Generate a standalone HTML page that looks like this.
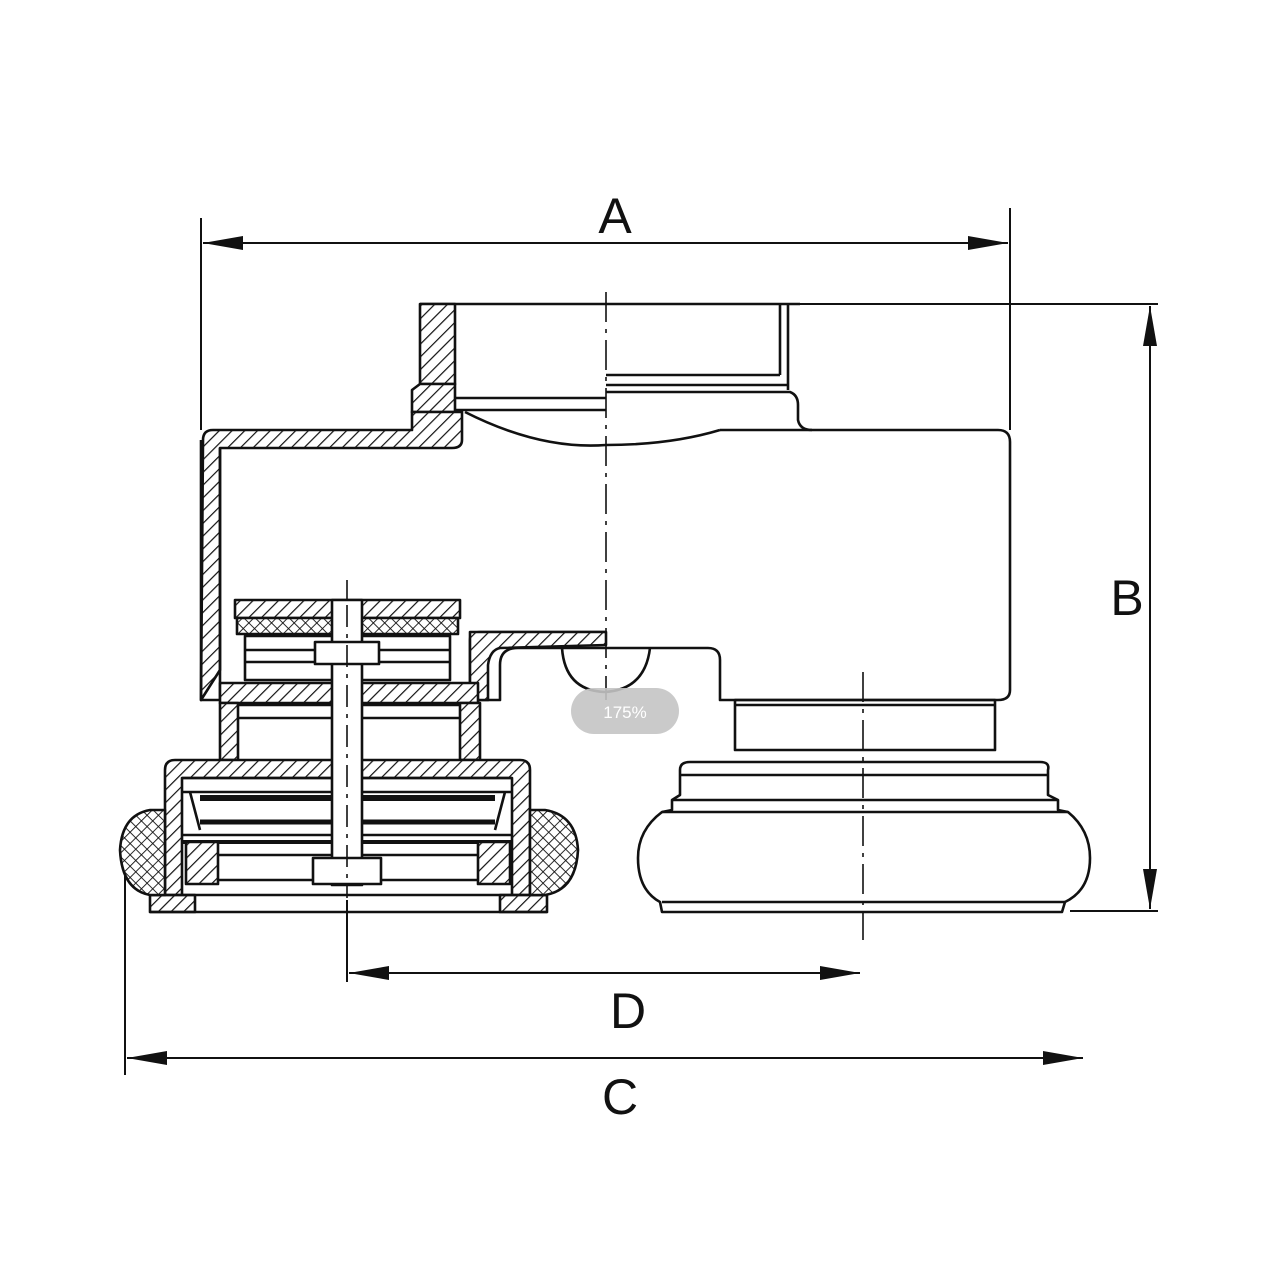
<!DOCTYPE html>
<html><head><meta charset="utf-8"><style>
html,body{margin:0;padding:0;background:#fff;width:1280px;height:1280px;overflow:hidden}
svg{display:block}
text{font-family:"Liberation Sans",sans-serif;fill:#111}
</style></head><body>
<svg width="1280" height="1280" viewBox="0 0 1280 1280" xmlns="http://www.w3.org/2000/svg">
<defs>
<pattern id="h" width="9" height="9" patternUnits="userSpaceOnUse" patternTransform="rotate(45)">
<rect width="9" height="9" fill="#fff"/><line x1="0" y1="0" x2="0" y2="9" stroke="#111" stroke-width="2.4"/></pattern>
<pattern id="x" width="8" height="8" patternUnits="userSpaceOnUse" patternTransform="rotate(45)">
<rect width="8" height="8" fill="#fff"/><line x1="0" y1="0" x2="0" y2="8" stroke="#111" stroke-width="1.8"/><line x1="0" y1="0" x2="8" y2="0" stroke="#111" stroke-width="1.8"/></pattern>
<marker id="ar" viewBox="0 0 40 14" refX="40" refY="7" markerWidth="40" markerHeight="14" markerUnits="userSpaceOnUse" orient="auto-start-reverse"><path d="M0,0 L40,7 L0,14 Z" fill="#111"/></marker>
</defs>
<g stroke="#111" stroke-width="2" fill="none">
<!-- dimension lines -->
<line x1="201" y1="218" x2="201" y2="430"/>
<line x1="1010" y1="208" x2="1010" y2="430"/>
<line x1="203" y1="243" x2="1008" y2="243" marker-start="url(#ar)" marker-end="url(#ar)"/>
<line x1="790" y1="304" x2="1158" y2="304"/>
<line x1="1070" y1="911" x2="1158" y2="911"/>
<line x1="1150" y1="306" x2="1150" y2="909" marker-start="url(#ar)" marker-end="url(#ar)"/>
<line x1="347" y1="900" x2="347" y2="982"/>
<line x1="349" y1="973" x2="860" y2="973" marker-start="url(#ar)" marker-end="url(#ar)"/>
<line x1="125" y1="860" x2="125" y2="1075"/>
<line x1="127" y1="1058" x2="1083" y2="1058" marker-start="url(#ar)" marker-end="url(#ar)"/>
<!-- center lines -->
<line x1="606" y1="292" x2="606" y2="700" stroke-dasharray="30,7,4,7" stroke-width="1.6"/>
<line x1="863" y1="672" x2="863" y2="940" stroke-dasharray="30,7,4,7" stroke-width="1.6"/>
<line x1="347" y1="580" x2="347" y2="900" stroke-dasharray="30,7,4,7" stroke-width="1.6"/>
</g>
<g stroke="#111" stroke-width="2.6" fill="none" stroke-linejoin="round">
<!-- top cylinder -->
<line x1="420" y1="304" x2="800" y2="304"/>
<rect x="420" y="304" width="35" height="80" fill="url(#h)"/>
<path d="M420,384 L412,390 L412,412 L455,412 L455,384 Z" fill="url(#h)"/>
<line x1="780" y1="304" x2="780" y2="375"/><line x1="788" y1="304" x2="788" y2="390"/>
<line x1="606" y1="375" x2="780" y2="375"/><line x1="606" y1="385" x2="788" y2="385"/>
<line x1="455" y1="398" x2="606" y2="398"/><line x1="455" y1="410" x2="606" y2="410"/>
<path d="M606,392 L790,392 Q798,395 798,405 L798,420 Q800,430 812,430"/>
<path d="M465,412 Q540,450 606,445 Q670,445 720,430"/>
<!-- main housing left wall hatched -->
<path d="M203,440 Q203,430 213,430 L412,430 L412,412 L462,412 L462,440 Q462,448 452,448 L220,448 L220,670 L201,700 Z" fill="url(#h)"/>
<path d="M201,440 L201,700 L220,700 L220,448" />
<!-- right body -->
<path d="M720,430 L998,430 Q1010,430 1010,442 L1010,690 Q1010,700 998,700 L720,700 L720,660 Q720,648 708,648 L518,648 Q500,648 500,665 L500,700 L470,700 L470,640 Q470,632 480,632 L606,632"/>
<path d="M470,640 L606,640" />
<path d="M470,632 L606,632 L606,645 L500,648 Q490,650 488,665 L488,700 L470,700 Z" fill="url(#h)"/>
<path d="M562,648 Q565,690 604,692 Q645,690 650,648"/>
<!-- lower right pipe and wheel -->
<rect x="735" y="700" width="260" height="50"/>
<line x1="735" y1="705" x2="995" y2="705"/>
<path d="M690,762 L1040,762 Q1050,762 1048,770 L1048,795 L1058,800 L1058,810 L1068,812 Q1090,830 1090,858 Q1090,890 1065,902 L1062,912 L662,912 L660,902 Q638,890 638,858 Q638,830 662,812 L672,810 L672,800 L680,795 L680,770 Q680,762 690,762 Z"/>
<line x1="680" y1="775" x2="1048" y2="775"/>
<line x1="672" y1="800" x2="1058" y2="800"/>
<line x1="662" y1="812" x2="1068" y2="812"/>
<line x1="662" y1="902" x2="1065" y2="902"/>
<!-- left assembly -->
<rect x="235" y="600" width="225" height="18" fill="url(#h)"/>
<rect x="237" y="618" width="221" height="16" fill="url(#x)"/>
<rect x="245" y="636" width="205" height="44"/>
<line x1="245" y1="650" x2="450" y2="650"/><line x1="245" y1="662" x2="450" y2="662"/>
<rect x="220" y="683" width="258" height="20" fill="url(#h)"/>
<path d="M220,703 L220,760 L238,760 L238,703 Z" fill="url(#h)"/>
<path d="M460,703 L460,760 L480,760 L480,703 Z" fill="url(#h)"/>
<line x1="238" y1="705" x2="460" y2="705"/><line x1="238" y1="718" x2="460" y2="718"/>
<path d="M165,770 Q165,760 175,760 L520,760 Q530,760 530,770 L530,910 L512,910 L512,778 L182,778 L182,910 L165,910 Z" fill="url(#h)"/>
<line x1="182" y1="778" x2="512" y2="778"/><line x1="182" y1="792" x2="512" y2="792"/>
<path d="M190,792 L200,830 M505,792 L495,830" />
<line x1="200" y1="798" x2="495" y2="798" stroke-width="6"/>
<line x1="200" y1="822" x2="495" y2="822" stroke-width="5"/>
<line x1="182" y1="835" x2="512" y2="835"/><line x1="182" y1="842" x2="512" y2="842" stroke-width="4"/>
<rect x="186" y="842" width="32" height="42" fill="url(#h)"/>
<rect x="478" y="842" width="32" height="42" fill="url(#h)"/>
<line x1="218" y1="855" x2="478" y2="855"/><line x1="218" y1="880" x2="478" y2="880"/>
<rect x="150" y="895" width="45" height="17" fill="url(#h)"/>
<rect x="500" y="895" width="47" height="17" fill="url(#h)"/>
<line x1="150" y1="895" x2="547" y2="895"/><line x1="150" y1="912" x2="547" y2="912"/>
<path d="M150,810 Q122,815 120,850 Q122,890 150,895 L165,895 L165,810 Z" fill="url(#x)"/>
<path d="M545,810 Q576,815 578,850 Q576,890 545,895 L530,895 L530,810 Z" fill="url(#x)"/>
<!-- bolt -->
<rect x="332" y="600" width="30" height="285" fill="#fff"/>
<rect x="315" y="642" width="64" height="22" fill="#fff"/>
<rect x="313" y="858" width="68" height="26" fill="#fff"/>
<line x1="347" y1="605" x2="347" y2="880" stroke-dasharray="22,7,4,7" stroke-width="1.6"/>
</g>
<text x="615" y="233" font-size="50" text-anchor="middle">A</text>
<text x="1127" y="615" font-size="50" text-anchor="middle">B</text>
<text x="628" y="1028" font-size="50" text-anchor="middle">D</text>
<text x="620" y="1114" font-size="50" text-anchor="middle">C</text>
<rect x="571" y="688" width="108" height="46" rx="23" fill="#c4c4c4" opacity="0.9"/>
<text x="625" y="718" font-size="17" fill="#fff" text-anchor="middle" style="fill:#fff">175%</text>
</svg>
</body></html>
